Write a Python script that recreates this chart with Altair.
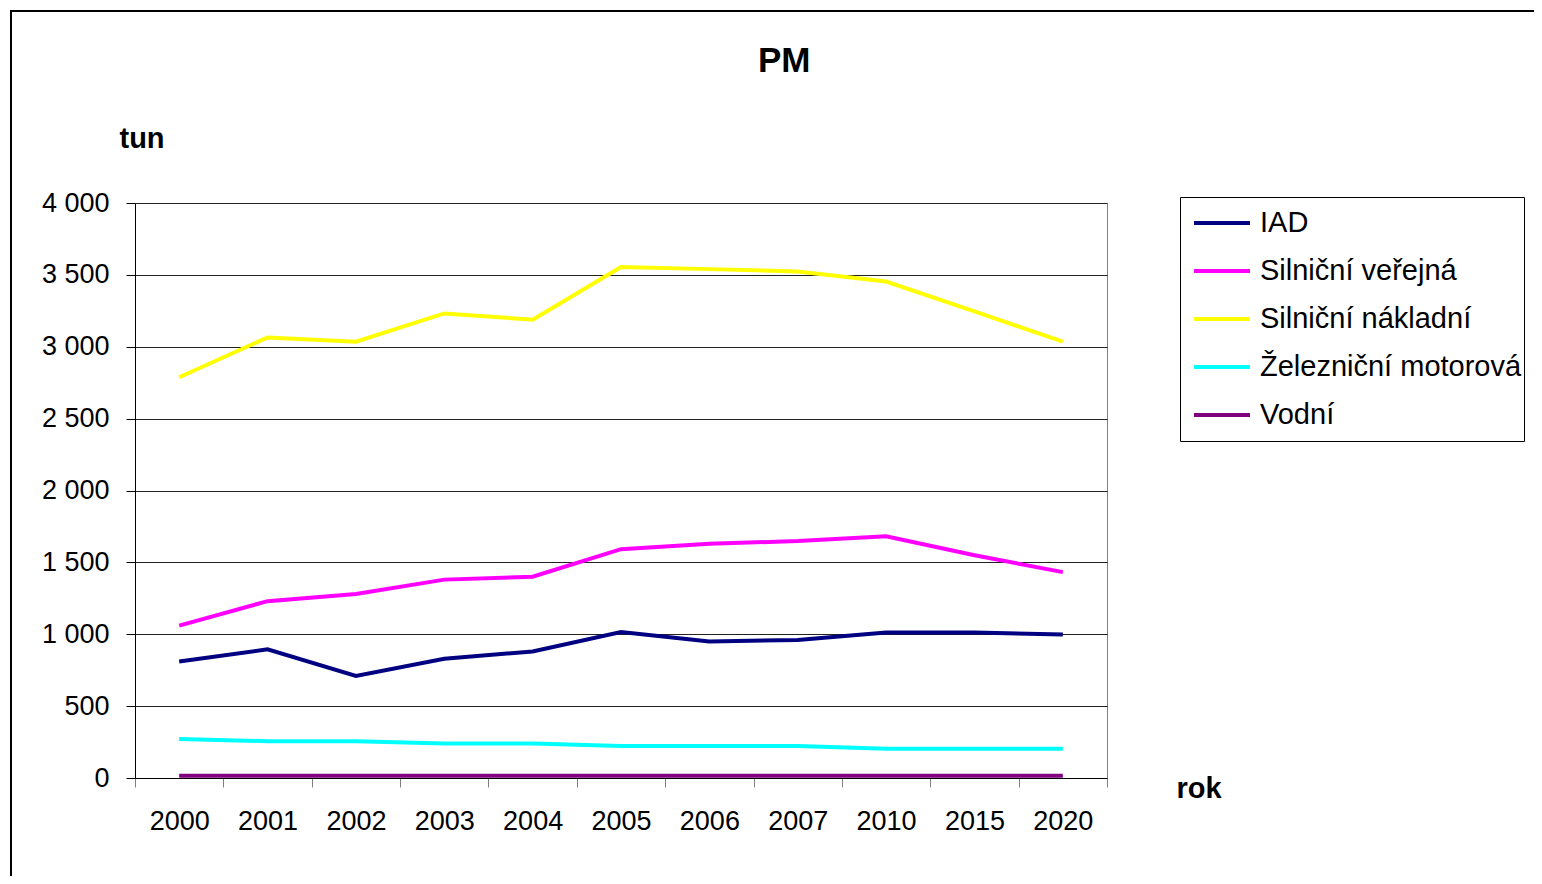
import altair as alt
import pandas as pd

years = ["2000", "2001", "2002", "2003", "2004", "2005", "2006", "2007", "2010", "2015", "2020"]
series_names = ["IAD", "Silniční veřejná", "Silniční nákladní", "Železniční motorová", "Vodní"]
series_colors = ["#000080", "#FF00FF", "#FFFF00", "#00FFFF", "#800080"]

iad = [810, 895, 710, 830, 880, 1015, 950, 960, 1012, 1012, 998]
silnicni_verejna = [1060, 1230, 1280, 1380, 1400, 1592, 1630, 1648, 1682, 1550, 1432]
silnicni_nakladni = [2788, 3065, 3035, 3232, 3188, 3555, 3540, 3524, 3454, 3246, 3035]
zeleznicni_motorova = [272, 256, 256, 240, 240, 222, 222, 222, 203, 203, 203]
vodni = [15, 15, 15, 15, 15, 15, 15, 15, 15, 15, 15]

y_ticks = [0, 500, 1000, 1500, 2000, 2500, 3000, 3500, 4000]

values = [iad, silnicni_verejna, silnicni_nakladni, zeleznicni_motorova, vodni]
rows = []
for name, vals in zip(series_names, values):
    for yr, v in zip(years, vals):
        rows.append({"rok": yr, "serie": name, "tun": v})
df = pd.DataFrame(rows)

FONT = "Liberation Sans"

lines = alt.Chart(df).mark_line(strokeWidth=4, clip=True).encode(
    x=alt.X(
        "rok:N",
        sort=years,
        bandPosition=0.5,
        scale=alt.Scale(type="band", paddingInner=0, paddingOuter=0),
        axis=alt.Axis(
            title="rok",
            titleFont=FONT,
            titleFontSize=29,
            titleFontWeight="bold",
            titleColor="#000",
            titleAngle=0,
            titleAlign="left",
            titleBaseline="alphabetic",
            titleX=1041,
            titleY=19,
            labelFont=FONT,
            labelFontSize=27,
            labelColor="#000",
            labelAngle=0,
            labelPadding=21,
            labelBaseline="top",
            tickBand="extent",
            tickSize=9,
            tickColor="#808080",
            tickWidth=1,
            domainColor="#000",
            domainWidth=1,
            grid=False,
        ),
    ),
    y=alt.Y(
        "tun:Q",
        scale=alt.Scale(domain=[0, 4000], nice=False),
        axis=alt.Axis(
            title="tun",
            titleFont=FONT,
            titleFontSize=29,
            titleFontWeight="bold",
            titleColor="#000",
            titleAngle=0,
            titleAlign="left",
            titleBaseline="alphabetic",
            titleX=-16,
            titleY=-56,
            values=y_ticks,
            labelExpr="replace(format(datum.value, ','), ',', ' ')",
            labelFont=FONT,
            labelFontSize=27,
            labelColor="#000",
            labelPadding=17,
            tickSize=9,
            tickColor="#000",
            domainColor="#000",
            grid=True,
            gridColor="#222222",
            gridWidth=1,
        ),
    ),
    color=alt.Color(
        "serie:N",
        sort=series_names,
        scale=alt.Scale(domain=series_names, range=series_colors),
        legend=alt.Legend(
            title=None,
            orient="none",
            legendX=1045,
            legendY=-6,
            padding=2,
            symbolType="stroke",
            symbolSize=3136,
            symbolStrokeWidth=4,
            symbolOffset=10,
            clipHeight=48,
            rowPadding=0,
            labelFont=FONT,
            labelFontSize=29,
            labelColor="#000",
            labelOffset=8,
            labelLimit=400,
            strokeColor="#000",
            fillColor="#fff",
        ),
    ),
)

border_df = pd.DataFrame({"k": [0]})
left_border = alt.Chart(border_df).mark_rule(color="#000", strokeWidth=2).encode(
    x=alt.value(-124), y=alt.value(-192), y2=alt.value(700)
)
top_border = alt.Chart(border_df).mark_rule(color="#000", strokeWidth=2).encode(
    x=alt.value(-125), x2=alt.value(1420), y=alt.value(-192)
)

chart = alt.layer(left_border, top_border, lines).properties(
    width=972,
    height=575,
    autosize=alt.AutoSizeParams(type="none"),
    padding={"left": 127, "top": 195, "right": 427, "bottom": 98},
    background="#ffffff",
    title=alt.TitleParams(
        text="PM",
        font=FONT,
        fontSize=35,
        fontWeight="bold",
        color="#000",
        anchor="start",
        frame="group",
        dx=623,
        baseline="alphabetic",
        offset=-97,
    ),
).configure_view(stroke="#808080", strokeWidth=1)

chart.save("out.html", embed_options={"renderer": "svg", "actions": False})
